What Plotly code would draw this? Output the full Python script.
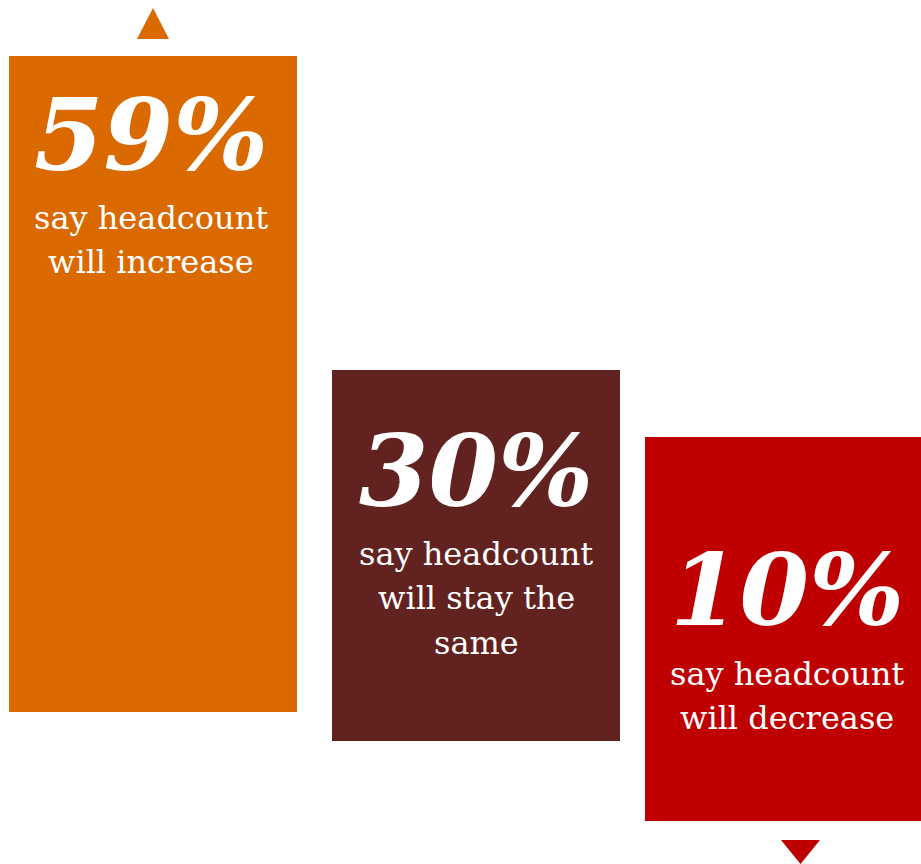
import plotly.graph_objects as go

# ---- data ----
categories = ["increase", "stay the same", "decrease"]
shares = [59, 30, 10]
sublabels = [
    ["say headcount", "will increase"],
    ["say headcount", "will stay the", "same"],
    ["say headcount", "will decrease"],
]

# ---- layout / style (pixel geometry of the infographic boxes) ----
colors = ["#DA6900", "#612220", "#BF0000"]
box_left = [9, 332, 645]
box_right = [297, 620, 921]
box_top = [56, 370, 437]
box_bottom = [712, 741, 821]
text_cx = [151, 476, 787]
pct_baseline = [170, 506, 625]
sub_baseline = [229, 565, 685]
line_gap = 44.5
PCT_SIZE = 100
SUB_SIZE = 32
ASC_OFF = 0.346  # DejaVu Serif: baseline -> middle of line box, in em

W, H = 921, 864

centers = [(l + r) / 2 for l, r in zip(box_left, box_right)]
widths = [r - l for l, r in zip(box_left, box_right)]
heights = [b - t for t, b in zip(box_top, box_bottom)]

fig = go.Figure()
fig.add_trace(go.Bar(
    x=centers, y=heights, base=box_top, width=widths,
    marker=dict(color=colors, line=dict(width=0)),
    customdata=shares, hoverinfo="skip", showlegend=False,
))

annotations = []
for i, cat in enumerate(categories):
    annotations.append(dict(
        x=text_cx[i], y=pct_baseline[i] - ASC_OFF * PCT_SIZE,
        xref="x", yref="y", xanchor="center", yanchor="middle",
        text=f"<b><i>{shares[i]}%</i></b>", showarrow=False,
        font=dict(family="DejaVu Serif", size=PCT_SIZE, color="white"),
    ))
    for j, line in enumerate(sublabels[i]):
        annotations.append(dict(
            x=text_cx[i], y=sub_baseline[i] + j * line_gap - ASC_OFF * SUB_SIZE,
            xref="x", yref="y", xanchor="center", yanchor="middle",
            text=line, showarrow=False,
            font=dict(family="DejaVu Serif", size=SUB_SIZE, color="white"),
        ))

# direction triangles (decoration)
up_cx, down_cx = centers[0], 800.5
shapes = [
    dict(type="path", xref="x", yref="y",
         path=f"M {up_cx-16},39 L {up_cx+16},39 L {up_cx},8 Z",
         fillcolor=colors[0], line=dict(width=0)),
    dict(type="path", xref="x", yref="y",
         path=f"M {down_cx-19.5},840 L {down_cx+19.5},840 L {down_cx},864 Z",
         fillcolor=colors[2], line=dict(width=0)),
]

fig.update_layout(
    width=W, height=H,
    margin=dict(l=0, r=0, t=0, b=0),
    paper_bgcolor="white", plot_bgcolor="white",
    xaxis=dict(range=[0, W], visible=False, fixedrange=True),
    yaxis=dict(range=[H, 0], visible=False, fixedrange=True),
    annotations=annotations, shapes=shapes,
    bargap=0,
)

fig.write_html("out.html", config={"displayModeBar": False})
